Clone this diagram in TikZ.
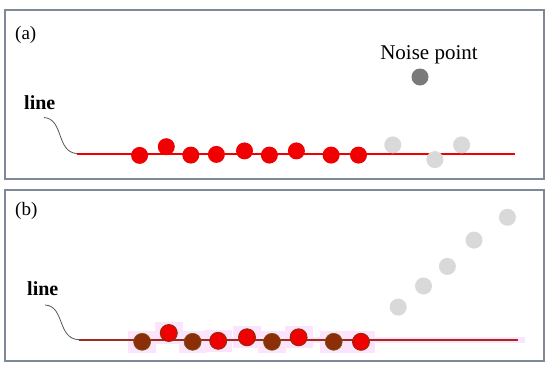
\documentclass[tikz,border=0pt]{standalone}
\usepackage{fontspec}
\setmainfont{Liberation Serif}
\usetikzlibrary{calc}
\definecolor{frameC}{HTML}{7F8898}
\definecolor{ptred}{HTML}{F00000}
\definecolor{ptgray}{HTML}{D9D9D9}
\definecolor{noiseC}{HTML}{7A7A7A}
\definecolor{ptbrown}{HTML}{8C2E08}
\definecolor{ptolive}{HTML}{6E5A10}
\definecolor{pinkC}{HTML}{FDE4FD}
\definecolor{curveC}{HTML}{555555}
\definecolor{lineB}{HTML}{A02A20}
\begin{document}
\begin{tikzpicture}[x=1pt,y=-1pt,
  frame/.style={draw=frameC,line width=1.4pt},
  redpt/.style={circle,fill=ptred,inner sep=0pt,minimum size=17pt},
  graypt/.style={circle,fill=ptgray,inner sep=0pt,minimum size=17pt},
  brownpt/.style={circle,fill=ptbrown,draw=ptolive,line width=0.6pt,inner sep=0pt,minimum size=17pt},
  redbpt/.style={circle,fill=ptred,draw=ptbrown,line width=0.9pt,inner sep=0pt,minimum size=17pt},
  lbl/.style={inner sep=0pt},
  callout/.style={draw=curveC,line width=0.8pt},
]
\useasboundingbox (0,0) rectangle (550,370);
\fill[white] (0,0) rectangle (550,370);
% ---------- panel (a)
\draw[frame] (5,10) rectangle (544,179);
\node[lbl,font=\fontsize{19}{21}\selectfont,anchor=west] (la) at (15,35) {(a)};
\node[lbl,font=\fontsize{21}{23}\selectfont] (noiselbl) at (429,55) {Noise point};
\node[circle,fill=noiseC,inner sep=0pt,minimum size=17pt] (noise) at (420,77) {};
\node[lbl,font=\bfseries\fontsize{20}{22}\selectfont,anchor=west] (linea) at (24,103) {line};
\coordinate (a0) at (77,153.6);
\coordinate (a1) at (515,153.6);
\coordinate (ca) at (44,117.5);
\fill[ptred] ($(a0)+(0,-0.9)$) rectangle ($(a1)+(0,0.9)$);
\draw[callout] (ca) .. controls (64,119) and (56,152) .. (a0);
\foreach \n/\x/\y in {1/139.6/155.4,2/166.3/146.7,3/190.8/155.1,4/216.4/154.4,5/244.5/150.9,6/269.4/155.1,7/296.4/150.9,8/331.1/155.1,9/358.5/155.1}
  \node[redpt] (ra\n) at (\x,\y) {};
\node[graypt] (ga1) at (392.8,144.9) {};
\node[graypt] (ga2) at (434.9,159.6) {};
\node[graypt] (ga3) at (461.6,144.9) {};
% ---------- panel (b)
\draw[frame] (5,190) rectangle (544,361);
\node[lbl,font=\fontsize{19}{21}\selectfont,anchor=west] (lb) at (15,211) {(b)};
\node[lbl,font=\bfseries\fontsize{20}{22}\selectfont,anchor=west] (lineb) at (27,288.5) {line};
\coordinate (b0) at (79,339.7);
\coordinate (b1) at (517.5,339.7);
\coordinate (cb) at (45,305);
\fill[pinkC] (128,337) rectangle (525,342.5);
\foreach \x/\y in {142.1/341.8,168.8/333,192.6/341.8,218.2/340.8,247/337.3,272/341.8,298.6/337.3,333.7/341.8,361/341.8}
  \fill[pinkC] (\x-14,\y-11) rectangle (\x+14,\y+11);
\fill[lineB] ($(b0)+(0,-0.85)$) rectangle ($(b1)+(0,0.85)$);
\draw[callout] (cb) .. controls (65,306) and (57,339) .. (b0);
\node[brownpt] (rb1) at (142.1,341.8) {};
\node[redbpt]  (rb2) at (168.8,333) {};
\node[brownpt] (rb3) at (192.6,341.8) {};
\node[redbpt]  (rb4) at (218.2,340.8) {};
\node[redbpt]  (rb5) at (247,337.3) {};
\node[brownpt] (rb6) at (272,341.8) {};
\node[redbpt]  (rb7) at (298.6,337.3) {};
\node[brownpt] (rb8) at (333.7,341.8) {};
\node[redbpt]  (rb9) at (361,341.8) {};
\node[graypt] (gb1) at (398.2,307.1) {};
\node[graypt] (gb2) at (423.5,286) {};
\node[graypt] (gb3) at (447.4,266.4) {};
\node[graypt] (gb4) at (474,240.1) {};
\node[graypt] (gb5) at (507.4,217.3) {};
\end{tikzpicture}
\end{document}
